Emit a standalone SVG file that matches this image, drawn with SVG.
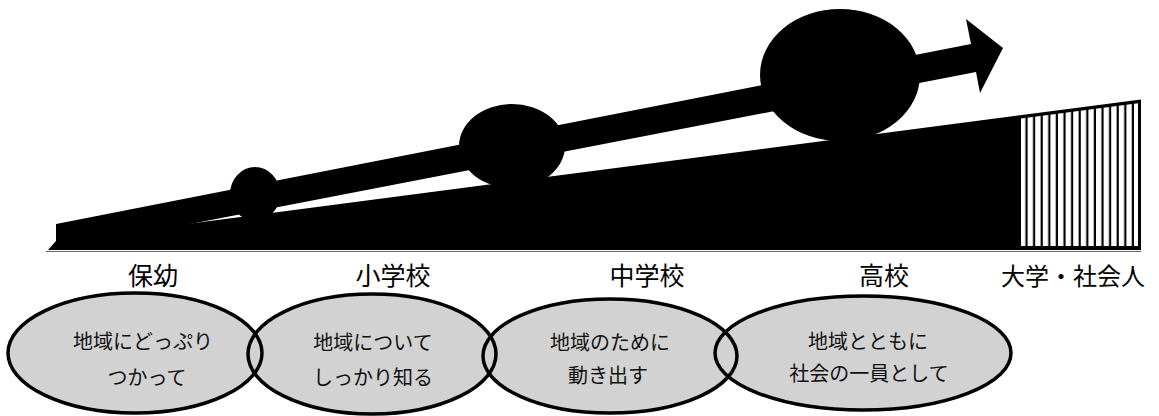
<svg xmlns="http://www.w3.org/2000/svg" width="1159" height="416" viewBox="0 0 1159 416">
  <style>
    .ink { fill: #000; }
    .stage { font-family: "Noto Sans CJK JP", "Noto Sans", sans-serif; font-size: 25px; fill: #000; text-anchor: middle; }
    .bubble { fill: #d2d2d2; stroke: none; }
    .bubble-line { fill: none; stroke: #000; stroke-width: 3.5; }
    .note { font-family: "Noto Sans CJK JP", "Noto Sans", sans-serif; font-size: 20px; fill: #111; text-anchor: middle; }
  </style>
  <defs>
    <pattern id="stripes" x="1020" y="0" width="7.6" height="10" patternUnits="userSpaceOnUse">
      <rect x="0" y="0" width="7.6" height="10" fill="#fff"/>
      <rect x="5.4" y="0" width="2.2" height="10" fill="#000"/>
    </pattern>
  </defs>
  <rect width="1159" height="416" fill="#fff"/>

  <g id="slope">
    <polygon class="ink" points="48,250 56,241 1141,99.5 1141,250"/>
    <polygon fill="url(#stripes)" points="1021,118.5 1138,103.3 1138,246 1021,246"/>
    <line x1="46" y1="251.5" x2="1141" y2="251.5" stroke="#666" stroke-width="1"/>
  </g>

  <g id="connectors">
    <polygon class="ink" points="56,224 971,44 966,19 1003,48 980,93 976,72 56,250"/>
  </g>

  <g id="ball-small">
    <ellipse class="ink" cx="255" cy="194" rx="25" ry="27"/>
  </g>
  <g id="ball-medium">
    <ellipse class="ink" cx="512" cy="146" rx="53" ry="42"/>
  </g>
  <g id="ball-large">
    <ellipse class="ink" cx="840" cy="75" rx="80" ry="66"/>
  </g>

  <g id="label-hoyo"><text class="stage" x="153" y="285">保幼</text></g>
  <g id="label-shogakko"><text class="stage" x="393" y="285">小学校</text></g>
  <g id="label-chugakko"><text class="stage" x="647" y="285">中学校</text></g>
  <g id="label-koko"><text class="stage" x="884" y="285">高校</text></g>
  <g id="label-daigaku"><text class="stage" x="1073" y="285" style="font-size:24px">大学・社会人</text></g>

  <g id="bubble-fills">
    <ellipse class="bubble" cx="135" cy="353" rx="127" ry="60"/>
    <ellipse class="bubble" cx="372" cy="354" rx="124" ry="60"/>
    <ellipse class="bubble" cx="610" cy="356" rx="127" ry="57"/>
    <ellipse class="bubble" cx="863" cy="353" rx="148" ry="57"/>
  </g>

  <g id="bubble-hoyo">
    <ellipse class="bubble-line" cx="135" cy="353" rx="127" ry="60"/>
    <text class="note" x="143" y="349">地域にどっぷり</text>
    <text class="note" x="147" y="385">つかって</text>
  </g>
  <g id="bubble-shogakko">
    <ellipse class="bubble-line" cx="372" cy="354" rx="124" ry="60"/>
    <text class="note" x="373" y="350">地域について</text>
    <text class="note" x="373" y="385">しっかり知る</text>
  </g>
  <g id="bubble-chugakko">
    <ellipse class="bubble-line" cx="610" cy="356" rx="127" ry="57"/>
    <text class="note" x="610" y="350">地域のために</text>
    <text class="note" x="608" y="383">動き出す</text>
  </g>
  <g id="bubble-koko">
    <ellipse class="bubble-line" cx="863" cy="353" rx="148" ry="57"/>
    <text class="note" x="868" y="349">地域とともに</text>
    <text class="note" x="869" y="381">社会の一員として</text>
  </g>
</svg>
